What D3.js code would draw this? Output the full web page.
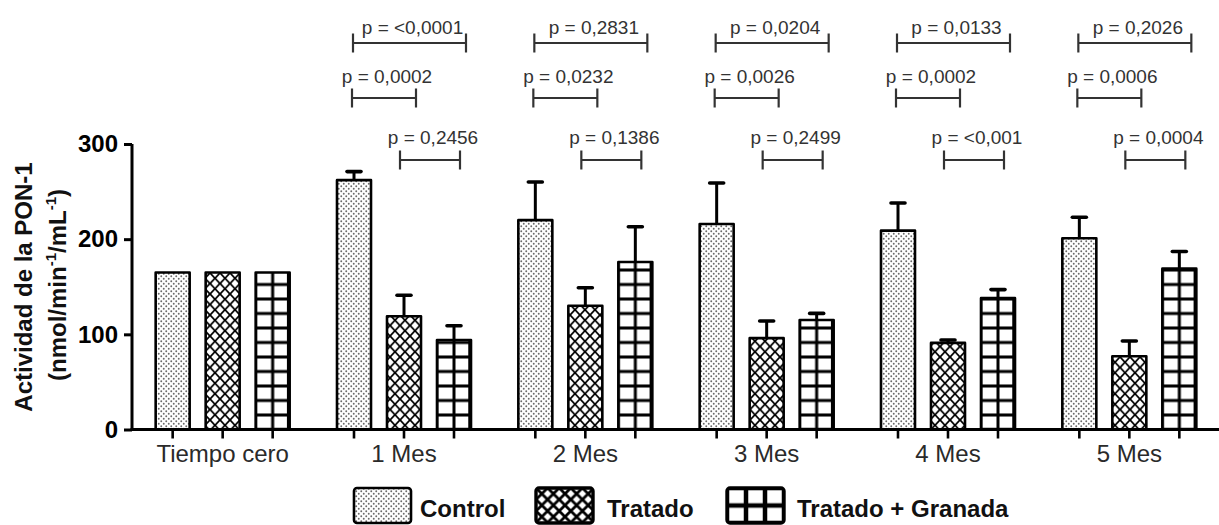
<!DOCTYPE html>
<html><head><meta charset="utf-8">
<script src="https://cdn.jsdelivr.net/npm/d3@7"></script>
<style>
html,body{margin:0;padding:0;background:#fff;}
svg{display:block;font-family:"Liberation Sans",Arial,sans-serif;}
</style></head>
<body>
<svg id="chart" width="1219" height="525"></svg>
<script>
// ---- data ----
const categories = ["Tiempo cero", "1 Mes", "2 Mes", "3 Mes", "4 Mes", "5 Mes"];
const seriesNames = ["Control", "Tratado", "Tratado + Granada"];
const controlValues = [165, 262, 220, 216, 209, 201];
const controlErrors = [0, 9, 40, 43, 29, 22];
const tratadoValues = [165, 119, 130, 96, 91, 77];
const tratadoErrors = [0, 22, 19, 18, 3, 16];
const granadaValues = [165, 94, 176, 115, 138, 169];
const granadaErrors = [0, 15, 37, 7, 9, 18];
const yTickValues = [0, 100, 200, 300];
// p-values per month (1..5 Mes)
const pControlGranada = ["<0,0001", "0,2831", "0,0204", "0,0133", "0,2026"];
const pControlTratado = ["0,0002", "0,0232", "0,0026", "0,0002", "0,0006"];
const pTratadoGranada = ["0,2456", "0,1386", "0,2499", "<0,001", "0,0004"];

const valuesBySeries = [controlValues, tratadoValues, granadaValues];
const errorsBySeries = [controlErrors, tratadoErrors, granadaErrors];

const svg = d3.select("#chart");
const FONT = '"Liberation Sans", Arial, sans-serif';

// ---- scales ----
const x0 = d3.scaleBand().domain(categories).range([132, 1220]).padding(0);
const x1 = d3.scaleBand().domain(seriesNames).range([0, 150]).paddingInner(0.32).paddingOuter(0.16);
const groupStart = c => x0(c) + x0.bandwidth() / 2 - 75;
const y = d3.scaleLinear().domain([0, 300]).range([429.5, 144]);
const bw = x1.bandwidth();
const barCenter = (c, s) => groupStart(c) + x1(s) + bw / 2;

// ---- patterns ----
const defs = svg.append("defs");
function dots(id, sz) {
  const p = defs.append("pattern").attr("id", id).attr("patternUnits", "userSpaceOnUse")
    .attr("width", sz).attr("height", sz);
  p.append("rect").attr("width", sz).attr("height", sz).attr("fill", "#fff");
  p.append("circle").attr("cx", sz / 4).attr("cy", sz / 4).attr("r", 0.95).attr("fill", "#6a6a6a");
  p.append("circle").attr("cx", 3 * sz / 4).attr("cy", 3 * sz / 4).attr("r", 0.95).attr("fill", "#6a6a6a");
}
function cross(id, w, h, sw, x, yy) {
  const p = defs.append("pattern").attr("id", id).attr("patternUnits", "userSpaceOnUse")
    .attr("width", w).attr("height", h).attr("x", x || 0).attr("y", yy || 0);
  p.append("rect").attr("width", w).attr("height", h).attr("fill", "#fff");
  p.append("path").attr("d", `M${-w*0.1},${-h*0.1}L${w*1.1},${h*1.1}M${w*1.1},${-h*0.1}L${-w*0.1},${h*1.1}`)
    .attr("stroke", "#000").attr("stroke-width", sw).attr("fill", "none");
}
function grid(id, x, yy, w, h, sw) {
  const p = defs.append("pattern").attr("id", id).attr("patternUnits", "userSpaceOnUse")
    .attr("x", x).attr("y", yy).attr("width", w).attr("height", h);
  p.append("rect").attr("width", w).attr("height", h).attr("fill", "#fff");
  p.append("rect").attr("x", 0).attr("y", 0).attr("width", w).attr("height", sw / 2).attr("fill", "#000");
  p.append("rect").attr("x", 0).attr("y", h - sw / 2).attr("width", w).attr("height", sw / 2).attr("fill", "#000");
  p.append("rect").attr("x", 0).attr("y", 0).attr("width", sw / 2).attr("height", h).attr("fill", "#000");
  p.append("rect").attr("x", w - sw / 2).attr("y", 0).attr("width", sw / 2).attr("height", h).attr("fill", "#000");
}
dots("pat-dots", 5);
cross("pat-cross", 10, 10.5, 1.8, 0, 0);

// ---- bars ----
const barData = [];
categories.forEach((c, gi) => {
  seriesNames.forEach((s, si) => {
    barData.push({ c, s, gi, si, v: valuesBySeries[si][gi], e: errorsBySeries[si][gi] });
  });
});

barData.filter(d => d.si === 2).forEach(d => {
  const bx = groupStart(d.c) + x1(d.s);
  grid("pat-grid-" + d.gi, bx, y(0), bw / 2, 14.5, 3);
});

function fillFor(d) {
  if (d.si === 0) return "url(#pat-dots)";
  if (d.si === 1) return "url(#pat-cross)";
  return "url(#pat-grid-" + d.gi + ")";
}

const gBars = svg.append("g");
gBars.selectAll("rect.bar").data(barData).join("rect")
  .attr("class", "bar")
  .attr("x", d => groupStart(d.c) + x1(d.s))
  .attr("y", d => y(d.v))
  .attr("width", bw)
  .attr("height", d => y(0) - y(d.v))
  .attr("fill", fillFor)
  .attr("stroke", "#000").attr("stroke-width", 2.6).attr("stroke-linejoin", "round");

// thicker right edge on granada bars
gBars.selectAll("line.redge").data(barData.filter(d => d.si === 2)).join("line")
  .attr("class", "redge")
  .attr("x1", d => groupStart(d.c) + x1(d.s) + bw - 1.5)
  .attr("x2", d => groupStart(d.c) + x1(d.s) + bw - 1.5)
  .attr("y1", d => y(d.v)).attr("y2", y(0))
  .attr("stroke", "#000").attr("stroke-width", 2.5);

// error bars
const errData = barData.filter(d => d.e > 0);
const gErr = svg.append("g");
gErr.selectAll("line.ev").data(errData).join("line")
  .attr("x1", d => barCenter(d.c, d.s)).attr("x2", d => barCenter(d.c, d.s))
  .attr("y1", d => y(d.v)).attr("y2", d => y(d.v + d.e))
  .attr("stroke", "#000").attr("stroke-width", 3);
gErr.selectAll("line.ec").data(errData).join("line")
  .attr("x1", d => barCenter(d.c, d.s) - 7).attr("x2", d => barCenter(d.c, d.s) + 7)
  .attr("y1", d => y(d.v + d.e)).attr("y2", d => y(d.v + d.e))
  .attr("stroke", "#000").attr("stroke-width", 3.6).attr("stroke-linecap", "round");

// ---- axes ----
const yAxis = d3.axisLeft(y).tickValues(yTickValues).tickSize(8).tickSizeOuter(0).tickPadding(6).tickFormat(d3.format("d"));
const gy = svg.append("g").attr("transform", "translate(132,0)").call(yAxis);
gy.select(".domain").attr("stroke", "#000").attr("stroke-width", 3).attr("d", `M0,${y(0)+1.5}V${y(300)}`);
gy.selectAll(".tick line").attr("stroke", "#000").attr("stroke-width", 3);
gy.selectAll(".tick text").attr("font-family", FONT).attr("font-size", 24).attr("font-weight", "bold").attr("fill", "#000");

// x axis line
svg.append("line").attr("x1", x0.range()[0] - 1.5).attr("x2", x0.range()[1])
  .attr("y1", y(0)).attr("y2", y(0)).attr("stroke", "#000").attr("stroke-width", 3);
// x ticks at each bar
svg.append("g").selectAll("line").data(barData).join("line")
  .attr("x1", d => barCenter(d.c, d.s)).attr("x2", d => barCenter(d.c, d.s))
  .attr("y1", y(0)).attr("y2", y(0) + 9)
  .attr("stroke", "#000").attr("stroke-width", 2.6);
// x labels
const xAxis = d3.axisBottom(x0).tickSize(0).tickPadding(0);
const gx = svg.append("g").attr("transform", `translate(0,${y(0)})`).call(xAxis);
gx.select(".domain").remove();
gx.selectAll(".tick text").attr("font-family", FONT).attr("font-size", 24).attr("fill", "#2a2a2a")
  .attr("dy", null).attr("y", 32);

// ---- y title ----
svg.append("text").attr("transform", "translate(32,287) rotate(-90)")
  .attr("text-anchor", "middle").attr("font-family", FONT).attr("font-size", 24).attr("font-weight", "bold")
  .attr("fill", "#111").text("Actividad de la PON-1");
const yt2 = svg.append("text").attr("transform", "translate(66,285) rotate(-90)")
  .attr("text-anchor", "middle").attr("font-family", FONT).attr("font-size", 24).attr("font-weight", "bold")
  .attr("fill", "#111");
yt2.append("tspan").text("(nmol/min");
yt2.append("tspan").attr("font-size", 15).attr("dy", -10).text("-1");
yt2.append("tspan").attr("dy", 10).text("/mL");
yt2.append("tspan").attr("font-size", 15).attr("dy", -10).text("-1");
yt2.append("tspan").attr("dy", 10).text(")");

// ---- significance brackets ----
const months = categories.slice(1);
const comps = [];
months.forEach((m, i) => {
  comps.push({ c: m, a: 0, b: 2, row: 0, p: pControlGranada[i] });
  comps.push({ c: m, a: 0, b: 1, row: 1, p: pControlTratado[i] });
  comps.push({ c: m, a: 1, b: 2, row: 2, p: pTratadoGranada[i] });
});
const rowBar = [43, 98, 160];
const rowText = [34, 83, 144];
const rowOff = [[-1, 12], [-2, 12], [-4, 6]];
const gC = svg.append("g");
comps.forEach(d => {
  const xa = barCenter(d.c, seriesNames[d.a]) + rowOff[d.row][0];
  const xb = barCenter(d.c, seriesNames[d.b]) + rowOff[d.row][1];
  const yy = rowBar[d.row];
  const g = gC.append("g").attr("stroke", "#333").attr("stroke-width", 2.2);
  g.append("line").attr("x1", xa).attr("x2", xb).attr("y1", yy).attr("y2", yy);
  g.append("line").attr("x1", xa).attr("x2", xa).attr("y1", yy - 9.5).attr("y2", yy + 9.5);
  g.append("line").attr("x1", xb).attr("x2", xb).attr("y1", yy - 9.5).attr("y2", yy + 9.5);
  gC.append("text").attr("x", (xa + xb) / 2 + 3).attr("y", rowText[d.row])
    .attr("text-anchor", "middle").attr("font-family", FONT).attr("font-size", 19).attr("fill", "#333")
    .text("p = " + d.p);
});

// ---- legend ----
const legX = [354, 536, 727];
const legTextX = [420, 607, 797];
const swW = 57, swH = 35, swY = 488;
cross("pat-cross-leg", 11.6, 11.5, 2.8, legX[1], swY);
grid("pat-grid-leg", legX[2], swY, swW / 3, swH / 2, 4.5);
const legFill = ["url(#pat-dots)", "url(#pat-cross-leg)", "url(#pat-grid-leg)"];
const gL = svg.append("g");
seriesNames.forEach((s, i) => {
  gL.append("rect").attr("x", legX[i]).attr("y", swY).attr("width", swW).attr("height", swH)
    .attr("rx", 3).attr("fill", legFill[i]).attr("stroke", "#000").attr("stroke-width", i === 0 ? 2.6 : 3.4);
  gL.append("text").attr("x", legTextX[i]).attr("y", 517)
    .attr("font-family", FONT).attr("font-size", 24).attr("font-weight", "bold").attr("fill", "#111").text(s);
});
</script>
</body></html>
